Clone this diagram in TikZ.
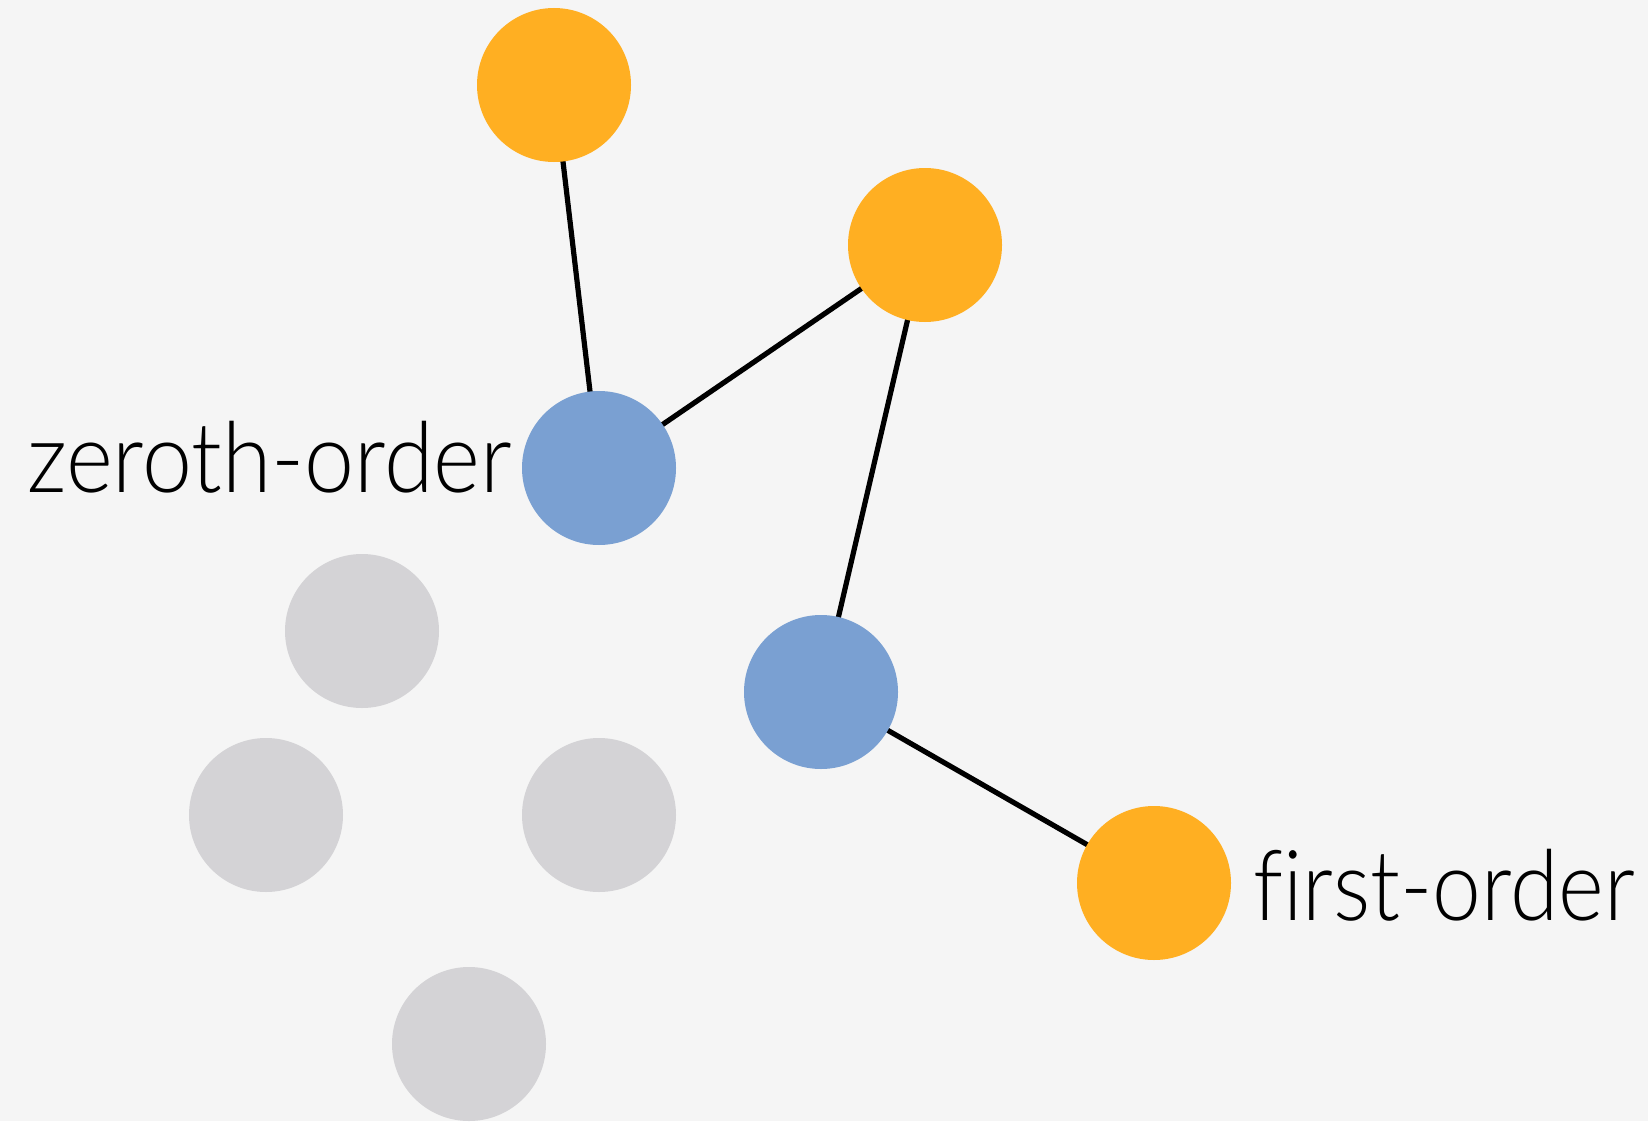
\documentclass[tikz,border=0pt]{standalone}
\usepackage{fontspec}
\newfontfamily\lbl[Ligatures=NoCommon]{Lato Light}
\pgfdeclarelayer{bg}
\pgfdeclarelayer{edges}
\pgfsetlayers{bg,edges,main}
\definecolor{bgc}{HTML}{F5F5F5}
\definecolor{orng}{HTML}{FFAF22}
\definecolor{blu}{HTML}{7AA0D2}
\definecolor{gry}{HTML}{D4D3D6}
\tikzset{
  dot/.style={circle, minimum size=154pt, inner sep=0pt, draw=none},
  odot/.style={dot, fill=orng},
  bdot/.style={dot, fill=blu},
  gdot/.style={dot, fill=gry},
  edge/.style={line width=5.2pt, black},
  lab/.style={inner sep=0pt, font=\lbl\fontsize{98}{98}\selectfont}
}
\begin{document}
\begin{tikzpicture}[x=1pt,y=-1pt]
\begin{pgfonlayer}{bg}
\fill[bgc] (0,0) rectangle (1648,1121);
\end{pgfonlayer}
\useasboundingbox (0,0) rectangle (1648,1121);
\node[odot] (o1) at (554,85) {};
\node[odot] (o2) at (925,245) {};
\node[bdot] (b1) at (599,468) {};
\node[bdot] (b2) at (821,692) {};
\node[odot] (o3) at (1154,883) {};
\node[gdot] (g1) at (362,631) {};
\node[gdot] (g2) at (266,815) {};
\node[gdot] (g3) at (599,815) {};
\node[gdot] (g4) at (469,1044) {};
\begin{pgfonlayer}{edges}
\draw[edge] (o1.center) -- (b1.center);
\draw[edge] (o2.center) -- (b1.center);
\draw[edge] (o2.center) -- (b2.center);
\draw[edge] (b2.center) -- (o3.center);
\end{pgfonlayer}
\node[lab, anchor=base west] (zl) at (27,492) {\scalebox{0.915}[1]{zeroth-order}};
\node[lab, anchor=base west] (fl) at (1253,920) {\scalebox{0.893}[1]{first-order}};
\end{tikzpicture}
\end{document}
